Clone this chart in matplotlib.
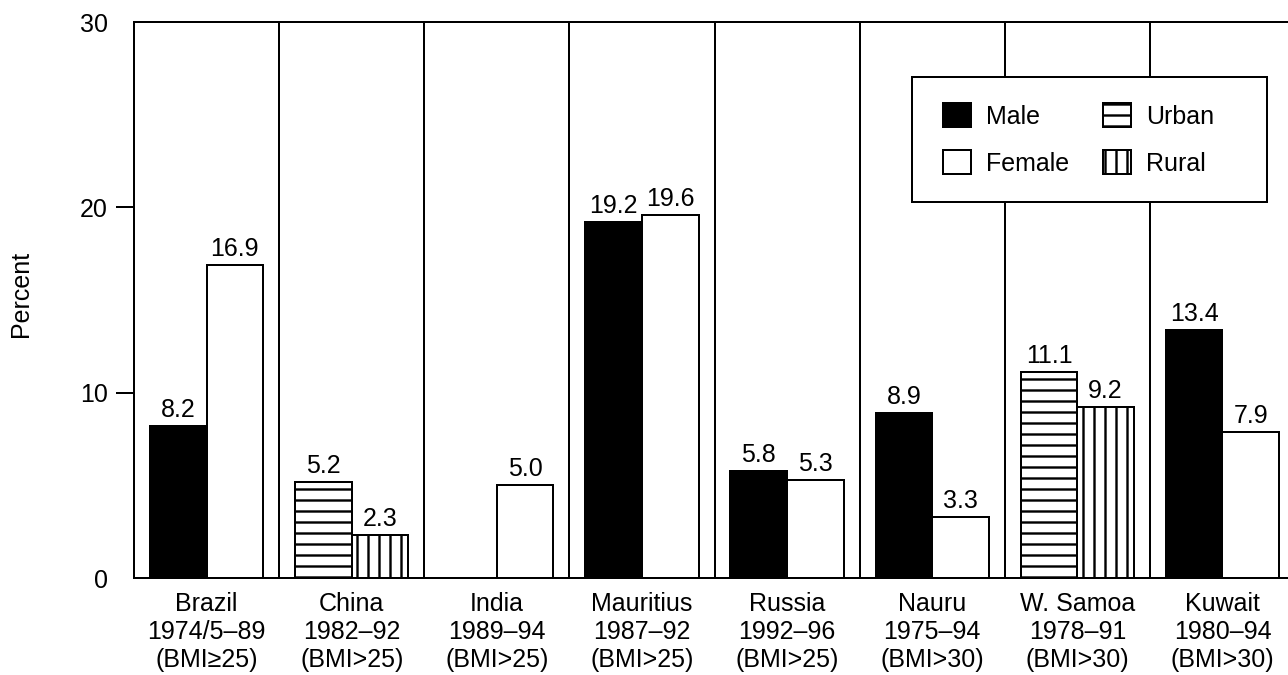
import numpy as np
import matplotlib
matplotlib.use("Agg")
import matplotlib.pyplot as plt
from matplotlib.patches import Patch, Rectangle

# ---------------- data ----------------
countries = ["Brazil", "China", "India", "Mauritius", "Russia", "Nauru", "W. Samoa", "Kuwait"]
periods = ["1974/5–89", "1982–92", "1989–94", "1987–92", "1992–96", "1975–94", "1978–91", "1980–94"]
criteria = ["(BMI≥25)", "(BMI>25)", "(BMI>25)", "(BMI>25)", "(BMI>25)", "(BMI>30)", "(BMI>30)", "(BMI>30)"]
first_values = [8.2, 5.2, None, 19.2, 5.8, 8.9, 11.1, 13.4]
second_values = [16.9, 2.3, 5.0, 19.6, 5.3, 3.3, 9.2, 7.9]
first_kind = ["Male", "Urban", "Male", "Male", "Male", "Male", "Urban", "Male"]
second_kind = ["Female", "Rural", "Female", "Female", "Female", "Female", "Rural", "Female"]
legend_order = ["Male", "Female", "Urban", "Rural"]
y_ticks = [0, 10, 20, 30]
y_label = "Percent"

# ---------------- styling ----------------
W, H, DPI = 1288, 675, 66
def pt(px):
    return px * 72.0 / DPI

FS = pt(25)
FAM = ["Liberation Sans", "DejaVu Sans"]
plt.rcParams["font.family"] = FAM
plt.rcParams["hatch.linewidth"] = pt(2.4)
plt.rcParams["hatch.color"] = "black"

styles = {
    "Male": dict(facecolor="black", hatch=None),
    "Female": dict(facecolor="white", hatch=None),
    "Urban": dict(facecolor="white", hatch="-"),
    "Rural": dict(facecolor="white", hatch="|"),
}

fig = plt.figure(figsize=(W / DPI, H / DPI), dpi=DPI)
left, right, top, bottom = 134, 1295, 22, 578
ax = fig.add_axes([left / W, 1 - bottom / H, (right - left) / W, (bottom - top) / H])

n = len(countries)
x = np.arange(n)
bw = 0.39
LW = pt(2)

for i in range(n):
    for val, kind, off in ((first_values[i], first_kind[i], -bw / 2),
                           (second_values[i], second_kind[i], bw / 2)):
        if val is None:
            continue
        st = styles[kind]
        ax.bar(x[i] + off, val, width=bw, facecolor=st["facecolor"], edgecolor="black",
               linewidth=LW, hatch=st["hatch"], zorder=2)
        ax.annotate(f"{val:.1f}", (x[i] + off, val), xytext=(0, pt(9)),
                    textcoords="offset points", ha="center", va="baseline",
                    fontsize=FS, color="black")

for i in range(n - 1):
    ax.axvline(x[i] + 0.5, color="black", linewidth=LW, zorder=1)

ax.set_xlim(-0.5, n - 0.5)
ax.set_ylim(0, 30)
ax.set_xticks(x)
ax.set_xticklabels([f"{c}\n{p}\n{b}" for c, p, b in zip(countries, periods, criteria)],
                   fontsize=FS, linespacing=1.2)
ax.tick_params(axis="x", length=0, pad=pt(14))
ax.set_yticks(y_ticks)
ax.set_yticklabels([str(t) for t in y_ticks], fontsize=FS)
ax.tick_params(axis="y", length=pt(18), width=LW, pad=pt(8), direction="out")
yt = ax.yaxis.get_major_ticks()
yt[0].tick1line.set_visible(False)
yt[-1].tick1line.set_visible(False)
ax.set_ylabel(y_label, fontsize=FS)
ax.yaxis.set_label_coords((33 - left) / (right - left), (bottom - 294) / (bottom - top))
for s in ax.spines.values():
    s.set_linewidth(LW)

# legend frame
lx0, ly0, lx1, ly1 = 912, 77, 1267, 202
fig.add_artist(Rectangle((lx0 / W, 1 - ly1 / H), (lx1 - lx0) / W, (ly1 - ly0) / H,
                         transform=fig.transFigure, facecolor="white", edgecolor="black",
                         linewidth=LW, zorder=3))
handles = [Patch(facecolor=styles[k]["facecolor"], edgecolor="black", hatch=styles[k]["hatch"],
                 linewidth=LW, label=k) for k in legend_order]
fig.legend(handles=handles, ncol=2, loc="upper left", bbox_to_anchor=(943 / W, 1 - 103 / H),
           bbox_transform=fig.transFigure, frameon=False, borderpad=0, borderaxespad=0,
           fontsize=FS, handlelength=1.12, handleheight=1.12, handletextpad=0.6,
           columnspacing=1.36, labelspacing=0.85)

fig.savefig("out.png", dpi=DPI)
